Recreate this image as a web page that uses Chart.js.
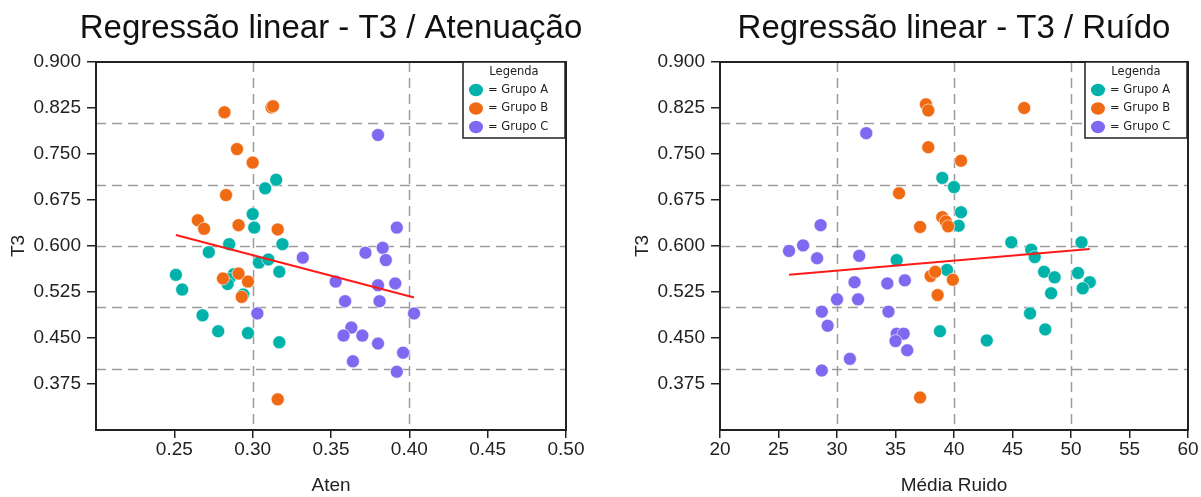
<!DOCTYPE html>
<html lang="pt">
<head>
<meta charset="UTF-8">
<title>Regressão linear</title>
<style>
  body { margin: 0; background: #fff; }
  .box { position: absolute; top: 0; height: 497px; }
  #b1 { left: 0; width: 600px; }
  #b2 { left: 624px; width: 577px; }
</style>
</head>
<body>
<div class="box" id="b1"><canvas id="c1"></canvas></div>
<div class="box" id="b2"><canvas id="c2"></canvas></div>

<script src="https://cdn.jsdelivr.net/npm/chart.js"></script>
<script>
// ---- dados: T3 x Atenuação ----
const atenA = [0.300, 0.301, 0.285, 0.272, 0.319, 0.304, 0.310, 0.317, 0.251, 0.255, 0.288, 0.285, 0.284, 0.294, 0.268, 0.278, 0.297, 0.317, 0.308, 0.315];
const t3AtenA = [0.652, 0.630, 0.603, 0.590, 0.603, 0.573, 0.578, 0.558, 0.553, 0.529, 0.554, 0.546, 0.538, 0.521, 0.487, 0.461, 0.458, 0.443, 0.694, 0.708];
const atenB = [0.282, 0.312, 0.313, 0.290, 0.300, 0.283, 0.265, 0.269, 0.291, 0.316, 0.281, 0.291, 0.297, 0.293, 0.316];
const t3AtenB = [0.818, 0.826, 0.828, 0.758, 0.736, 0.683, 0.642, 0.628, 0.634, 0.627, 0.547, 0.555, 0.542, 0.517, 0.350];
const atenC = [0.332, 0.353, 0.303, 0.392, 0.383, 0.372, 0.385, 0.380, 0.391, 0.359, 0.381, 0.403, 0.363, 0.358, 0.370, 0.380, 0.396, 0.364, 0.392, 0.380];
const t3AtenC = [0.581, 0.542, 0.490, 0.630, 0.597, 0.589, 0.577, 0.536, 0.539, 0.510, 0.510, 0.490, 0.467, 0.454, 0.454, 0.441, 0.426, 0.412, 0.395, 0.781];
const regAtenX = [0.251, 0.403];
const regAtenY = [0.618, 0.516];

// ---- dados: T3 x Média Ruido ----
const ruidoA = [39.0, 40.0, 40.6, 40.4, 44.9, 50.9, 46.6, 46.9, 39.4, 47.7, 48.6, 50.6, 51.6, 51.0, 48.3, 46.5, 47.8, 38.8, 42.8, 35.1];
const t3RuidoA = [0.711, 0.696, 0.655, 0.633, 0.606, 0.606, 0.594, 0.582, 0.561, 0.558, 0.549, 0.556, 0.541, 0.531, 0.523, 0.490, 0.464, 0.461, 0.446, 0.577];
const ruidoB = [37.6, 37.8, 37.8, 35.3, 37.1, 46.0, 40.6, 39.0, 39.3, 39.5, 38.0, 38.4, 39.9, 38.6, 37.1];
const t3RuidoB = [0.831, 0.821, 0.761, 0.686, 0.631, 0.825, 0.739, 0.647, 0.640, 0.632, 0.551, 0.558, 0.545, 0.520, 0.353];
const ruidoC = [32.5, 28.6, 27.1, 25.9, 28.3, 31.9, 31.5, 34.3, 35.8, 30.0, 31.8, 28.7, 34.4, 29.2, 35.1, 35.7, 35.0, 36.0, 31.1, 28.7];
const t3RuidoC = [0.784, 0.634, 0.601, 0.592, 0.580, 0.584, 0.541, 0.539, 0.544, 0.513, 0.513, 0.493, 0.493, 0.470, 0.457, 0.457, 0.445, 0.430, 0.416, 0.397];
const regRuidoX = [25.9, 51.6];
const regRuidoY = [0.553, 0.595];

// ---- eixos ----
const t3Ticks = [0.375, 0.450, 0.525, 0.600, 0.675, 0.750, 0.825, 0.900];
const t3Grid = [0.4, 0.5, 0.6, 0.7, 0.8];
const atenTicks = [0.25, 0.30, 0.35, 0.40, 0.45, 0.50];
const atenGrid = [0.3, 0.4];
const ruidoTicks = [20, 25, 30, 35, 40, 45, 50, 55, 60];
const ruidoGrid = [30, 40, 50];

const grupos = ['Grupo A', 'Grupo B', 'Grupo C'];
const cores = ['#00b2a9', '#ef6a12', '#8068f0'];

function pts(xs, ys) {
    return xs.map((v, i) => ({ x: v, y: ys[i] }));
}

// grade tracejada, moldura, título e legenda
const molduraPlugin = {
    id: 'moldura',
    beforeDatasetsDraw(chart, args, o) {
        const { ctx, chartArea: a, scales: { x, y } } = chart;
        ctx.save();
        ctx.strokeStyle = '#9c9c9c';
        ctx.lineWidth = 1.5;
        ctx.setLineDash([10, 6]);
        o.xGrid.forEach(v => {
            const px = Math.round(x.getPixelForValue(v)) + 0.5;
            ctx.beginPath(); ctx.moveTo(px, a.top); ctx.lineTo(px, a.bottom); ctx.stroke();
        });
        o.yGrid.forEach(v => {
            const py = Math.round(y.getPixelForValue(v)) + 0.5;
            ctx.beginPath(); ctx.moveTo(a.left, py); ctx.lineTo(a.right, py); ctx.stroke();
        });
        ctx.restore();
    },
    afterDraw(chart, args, o) {
        const { ctx, chartArea: a } = chart;
        ctx.save();
        // moldura
        ctx.strokeStyle = '#222';
        ctx.lineWidth = 2;
        ctx.strokeRect(a.left, a.top, a.right - a.left, a.bottom - a.top);

        // título
        ctx.fillStyle = '#111';
        ctx.font = '33px "Liberation Sans", Arial, sans-serif';
        ctx.textAlign = 'center';
        ctx.textBaseline = 'middle';
        ctx.fillText(o.title, (a.left + a.right) / 2, 29);

        // legenda
        const w = 102, h = 76;
        const lx = a.right - w - 1, ly = a.top;
        ctx.fillStyle = '#fff';
        ctx.fillRect(lx, ly, w, h);
        ctx.strokeStyle = '#222';
        ctx.lineWidth = 1.5;
        ctx.strokeRect(lx, ly, w, h);
        ctx.fillStyle = '#222';
        ctx.font = '11.5px "DejaVu Sans", sans-serif';
        ctx.fillText('Legenda', lx + w / 2, ly + 10);
        ctx.textAlign = 'left';
        grupos.forEach((g, i) => {
            const cy = ly + 28 + i * 18.5;
            ctx.beginPath();
            ctx.ellipse(lx + 13, cy, 7, 6.2, 0, 0, Math.PI * 2);
            ctx.fillStyle = cores[i];
            ctx.fill();
            ctx.fillStyle = '#222';
            ctx.fillText('= ' + g, lx + 25, cy);
        });
        ctx.restore();
    }
};

function fazerGrafico(id, xs, ys, reg, xMin, xMax, xTicks, xGrid, xFmt, xTitle, title, padRight) {
    const dsPts = grupos.map((g, i) => ({
        label: g,
        data: pts(xs[i], ys[i]),
        backgroundColor: cores[i],
        borderColor: '#fff',
        borderWidth: 0.6,
        pointRadius: 6.5,
        order: 3 - i
    }));
    dsPts.push({
        label: 'regressão',
        data: pts(reg[0], reg[1]),
        showLine: true,
        borderColor: '#ff1a1a',
        borderWidth: 2,
        pointRadius: 0,
        order: 0
    });

    const fonte = { family: '"Liberation Sans", Arial, sans-serif', size: 19 };
    const fonteTit = { family: '"Liberation Sans", Arial, sans-serif', size: 19, lineHeight: 1.1 };

    return new Chart(document.getElementById(id), {
        type: 'scatter',
        data: { datasets: dsPts },
        options: {
            responsive: true,
            maintainAspectRatio: false,
            animation: false,
            layout: { padding: { top: 62, right: padRight, bottom: 0, left: 0 } },
            plugins: {
                legend: { display: false },
                tooltip: { enabled: false },
                moldura: { title: title, xGrid: xGrid, yGrid: t3Grid }
            },
            scales: {
                x: {
                    type: 'linear',
                    min: xMin,
                    max: xMax,
                    afterBuildTicks: s => { s.ticks = xTicks.map(v => ({ value: v })); },
                    afterFit: s => { s.height = 67; },
                    ticks: { color: '#222', font: fonte, padding: 0, maxRotation: 0, callback: xFmt },
                    grid: { drawOnChartArea: false, color: '#222', tickLength: 8, lineWidth: 1.5 },
                    border: { display: true, color: '#222', width: 2 },
                    title: { display: true, text: xTitle, color: '#222', font: fonteTit, padding: { top: 0, bottom: 1 } }
                },
                y: {
                    type: 'linear',
                    min: 0.3,
                    max: 0.9,
                    afterBuildTicks: s => { s.ticks = t3Ticks.map(v => ({ value: v })); },
                    afterFit: s => { s.width = 96; },
                    ticks: { color: '#222', font: fonte, padding: 6, callback: v => v.toFixed(3) },
                    grid: { drawOnChartArea: false, color: '#222', tickLength: 9, lineWidth: 1.5 },
                    border: { display: true, color: '#222', width: 2 },
                    title: { display: true, text: 'T3', color: '#222', font: fonte, padding: { top: 7, bottom: 0 } }
                }
            }
        },
        plugins: [molduraPlugin]
    });
}

fazerGrafico('c1', [atenA, atenB, atenC], [t3AtenA, t3AtenB, t3AtenC], [regAtenX, regAtenY],
    0.2, 0.5, atenTicks, atenGrid, v => v.toFixed(2), 'Aten',
    'Regressão linear - T3 / Atenuação', 34);

fazerGrafico('c2', [ruidoA, ruidoB, ruidoC], [t3RuidoA, t3RuidoB, t3RuidoC], [regRuidoX, regRuidoY],
    20, 60, ruidoTicks, ruidoGrid, v => String(v), 'Média Ruido',
    'Regressão linear - T3 / Ruído', 13);
</script>
</body>
</html>
